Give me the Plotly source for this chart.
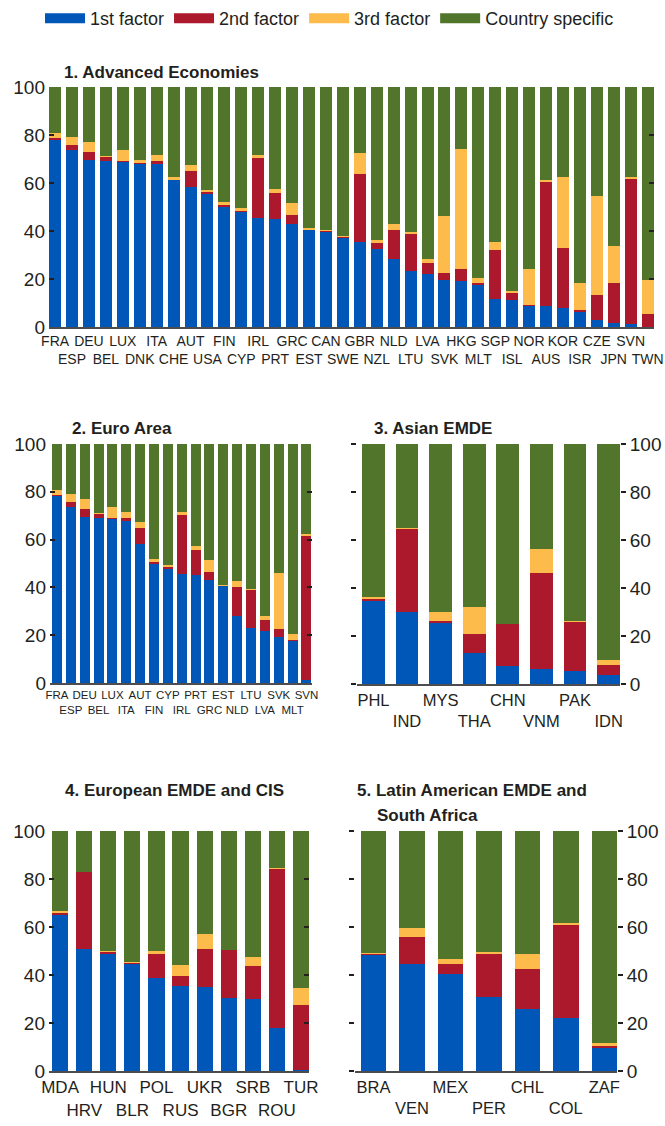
import plotly.graph_objects as go

# ---------------- data (shares, percent) ----------------
adv_countries = ["FRA","ESP","DEU","BEL","LUX","DNK","ITA","CHE","AUT","USA","FIN","CYP",
                 "IRL","PRT","GRC","EST","CAN","SWE","GBR","NZL","NLD","LTU","LVA","SVK",
                 "HKG","MLT","SGP","ISL","NOR","AUS","KOR","ISR","CZE","JPN","SVN","TWN"]
adv_f1 = [78.3,73.8,69.6,69.0,68.8,68.2,67.8,61.5,58.2,55.3,49.9,47.8,
          45.4,45.0,42.9,40.7,39.9,37.4,35.3,32.4,28.2,23.2,21.9,19.4,
          19.0,17.8,11.5,11.1,9.0,8.6,7.8,6.5,2.8,1.5,1.1,0.2]
adv_f2 = [0.5,1.9,3.2,2.1,0.4,0.4,1.2,0.1,6.7,1.2,0.9,0.9,
          24.9,10.8,3.6,0.1,0.4,0.5,28.3,2.9,12.1,15.8,4.6,3.0,
          5.0,0.4,20.4,3.3,0.2,52.1,25.0,0.4,10.4,16.7,60.8,5.1]
adv_f3 = [2.0,3.3,4.1,0.2,4.4,0.8,2.5,0.8,2.5,0.4,1.1,0.7,
          1.2,1.6,5.0,0.3,0.1,0.1,8.8,0.8,2.5,0.4,1.7,23.7,
          50.0,2.1,3.4,0.5,14.8,0.4,29.6,11.3,41.2,15.4,0.5,14.1]
adv_cs = [19.2,21.0,23.1,28.7,26.4,30.6,28.5,37.6,32.6,43.1,48.1,50.6,
          28.5,42.6,48.5,58.9,59.6,62.0,27.6,63.9,57.2,60.6,71.8,53.9,
          26.0,79.7,64.7,85.1,76.0,38.9,37.6,81.8,45.6,66.4,37.6,80.6]

euro_countries = ["FRA","ESP","DEU","BEL","LUX","ITA","AUT","FIN","CYP","IRL","PRT","GRC",
                  "EST","NLD","LTU","LVA","SVK","MLT","SVN"]

asia_countries = ["PHL","IND","MYS","THA","CHN","VNM","PAK","IDN"]
asia_f1 = [34.7,30.1,25.6,13.1,7.6,6.2,5.6,3.7]
asia_f2 = [1.1,34.6,0.8,7.9,17.5,40.0,20.4,4.4]
asia_f3 = [0.4,0.4,3.7,11.2,0.1,10.2,0.4,2.0]
asia_cs = [63.8,34.9,69.9,67.8,74.8,43.6,73.6,89.9]

eur_countries = ["MDA","HRV","HUN","BLR","POL","RUS","UKR","BGR","SRB","ROU","TUR"]
eur_f1 = [65.1,50.8,49.1,44.8,38.8,35.5,35.0,30.5,29.8,17.9,0.3]
eur_f2 = [1.1,32.2,0.6,0.3,10.0,4.1,15.8,20.0,13.9,66.4,27.1]
eur_f3 = [0.4,0.1,0.4,0.4,1.3,4.6,6.4,0.1,3.9,0.1,7.2]
eur_cs = [33.4,16.9,49.9,54.5,49.9,55.8,42.8,49.4,52.4,15.6,65.4]

lat_countries = ["BRA","VEN","MEX","PER","CHL","COL","ZAF"]
lat_f1 = [48.4,44.6,40.5,30.7,25.7,22.1,9.6]
lat_f2 = [0.6,11.2,4.0,18.4,16.7,39.1,1.2]
lat_f3 = [0.1,3.7,2.2,0.4,6.3,0.4,0.7]
lat_cs = [50.9,40.5,53.3,50.5,51.3,38.4,88.5]

series_names = ["1st factor","2nd factor","3rd factor","Country specific"]
y_ticks = [0,20,40,60,80,100]

# ---------------- style ----------------
COLORS = ["#0057B8","#AC182C","#FDBB4B","#51762B"]
FONT = "Liberation Sans, Arial, Helvetica, sans-serif"
TXT = "#231F20"
W, H = 665, 1126

idx = {c: i for i, c in enumerate(adv_countries)}
euro_f1 = [adv_f1[idx[c]] for c in euro_countries]
euro_f2 = [adv_f2[idx[c]] for c in euro_countries]
euro_f3 = [adv_f3[idx[c]] for c in euro_countries]
euro_cs = [adv_cs[idx[c]] for c in euro_countries]

def px_x(p):
    return p / W

def px_y(p):
    return 1 - p / H

panels = [
    dict(c=adv_countries, s=[adv_f1, adv_f2, adv_f3, adv_cs], ax="", xd=(49, 654), yd=(327, 87),
         xr=[-0.36, 35.38], bw=0.71, tf=14, side="left"),
    dict(c=euro_countries, s=[euro_f1, euro_f2, euro_f3, euro_cs], ax="2", xd=(50, 312), yd=(683, 444),
         xr=[-0.5, 18.4], bw=0.72, tf=11.5, side="left"),
    dict(c=asia_countries, s=[asia_f1, asia_f2, asia_f3, asia_cs], ax="3", xd=(357, 620), yd=(684, 444),
         xr=[-0.49, 7.34], bw=0.68, tf=16.5, side="right"),
    dict(c=eur_countries, s=[eur_f1, eur_f2, eur_f3, eur_cs], ax="4", xd=(49, 309), yd=(1071, 831),
         xr=[-0.46, 10.33], bw=0.67, tf=17, side="left"),
    dict(c=lat_countries, s=[lat_f1, lat_f2, lat_f3, lat_cs], ax="5", xd=(355, 617), yd=(1071, 831),
         xr=[-0.48, 6.33], bw=0.66, tf=16.5, side="right"),
]

fig = go.Figure()
layout = {}
for p in panels:
    ax = p["ax"]
    for k, vals in enumerate(p["s"]):
        fig.add_trace(go.Bar(
            x=p["c"], y=vals, name=series_names[k], marker=dict(color=COLORS[k], line=dict(width=0)),
            width=p["bw"], showlegend=False, xaxis="x" + ax, yaxis="y" + ax,
            hovertemplate="%{x}: %{y}<extra>" + series_names[k] + "</extra>"))
    ticktext = [c if i % 2 == 0 else "<br>" + c for i, c in enumerate(p["c"])]
    layout["xaxis" + ax] = dict(
        domain=[px_x(p["xd"][0]), px_x(p["xd"][1])], anchor="y" + ax, type="category",
        range=p["xr"], tickvals=p["c"], ticktext=ticktext, ticks="", showgrid=False,
        tickangle=0, showline=True, linecolor="#4D4D4F", linewidth=2, zeroline=False,
        tickfont=dict(family=FONT, size=p["tf"], color=TXT), fixedrange=True)
    layout["yaxis" + ax] = dict(
        domain=[px_y(p["yd"][0]), px_y(p["yd"][1])], anchor="x" + ax, range=[0, 100],
        tickvals=y_ticks, side=p["side"], ticks="inside" if p["side"] == "left" else "outside",
        ticklen=5, tickwidth=1.5, tickcolor="#231F20", mirror="ticks", showline=False,
        showgrid=False, zeroline=False, ticklabelstandoff=3 if p["side"] == "left" else 0,
        tickfont=dict(family=FONT, size=19, color=TXT), fixedrange=True)

# legend entries
for k in range(4):
    fig.add_trace(go.Scatter(x=[None], y=[None], mode="lines", name=series_names[k],
                             line=dict(color=COLORS[k], width=10), showlegend=True,
                             xaxis="x", yaxis="y", hoverinfo="skip"))

titles = [
    ("<b>1. Advanced Economies</b>", 62, 72, "left"),
    ("<b>2. Euro Area</b>", 70, 429, "left"),
    ("<b>3. Asian EMDE</b>", 372, 429, "left"),
    ("<b>4. European EMDE and CIS</b>", 174, 790, "center"),
    ("<b>5. Latin American EMDE and</b>", 355, 790, "left"),
    ("<b>South Africa</b>", 375, 815, "left"),
]
annotations = [dict(text=t, x=px_x(x), y=px_y(y), xref="paper", yref="paper", xanchor=a,
                    yanchor="middle", showarrow=False,
                    font=dict(family=FONT, size=17, color=TXT)) for t, x, y, a in titles]

fig.update_layout(
    **layout,
    width=W, height=H, margin=dict(l=0, r=0, t=0, b=0, autoexpand=False),
    paper_bgcolor="white", plot_bgcolor="white", barmode="stack",
    annotations=annotations,
    legend=dict(orientation="h", x=px_x(40), y=px_y(0), xanchor="left", yanchor="top",
                font=dict(family=FONT, size=18, color=TXT), itemwidth=40,
                traceorder="normal", bgcolor="rgba(0,0,0,0)"),
    font=dict(family=FONT, color=TXT),
)

fig.write_html("out.html", config={"displayModeBar": False},
               post_script="document.body.style.margin='0';document.body.style.padding='0';")
